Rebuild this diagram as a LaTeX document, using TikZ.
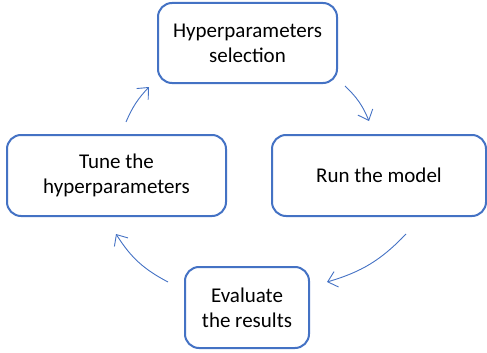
\documentclass[tikz,border=0pt]{standalone}
\usepackage{fontspec}
\setmainfont{Carlito}
\usetikzlibrary{arrows.meta}
\definecolor{bl}{RGB}{68,114,196}
\begin{document}
\begin{tikzpicture}[x=1pt,y=-1pt,
  box/.style={draw=bl,line width=2pt,rounded corners=14pt,fill=white,align=center,
    font=\fontsize{21}{25}\selectfont,inner sep=0pt},
  cyc/.style={draw=bl,line width=0.9pt,-{Straight Barb[length=9pt,width=16pt,line width=0.9pt]}}]
\useasboundingbox (0,0) rectangle (487,353);
\node[box,minimum width=179pt,minimum height=80pt] (top) at (247.5,43) {Hyperparameters\\selection};
\node[box,minimum width=214pt,minimum height=81pt] (right) at (379,175.5) {Run the model};
\node[box,minimum width=219pt,minimum height=81pt] (left) at (116.5,175.5) {Tune the\\hyperparameters};
\node[box,minimum width=124pt,minimum height=81pt] (bot) at (247,307.5) {Evaluate\\the results};
\coordinate (a1) at (345,86); \coordinate (a2) at (369,121);
\coordinate (b1) at (406,234); \coordinate (b2) at (327,282);
\coordinate (c1) at (168,282); \coordinate (c2) at (116,234);
\coordinate (d1) at (126,122); \coordinate (d2) at (149,87);
\draw[cyc] (a1) to[bend left=12] (a2);
\draw[cyc] (b1) to[bend left=15] (b2);
\draw[cyc] (c1) to[bend left=15] (c2);
\draw[cyc] (d1) to[bend left=10] (d2);
\end{tikzpicture}
\end{document}
